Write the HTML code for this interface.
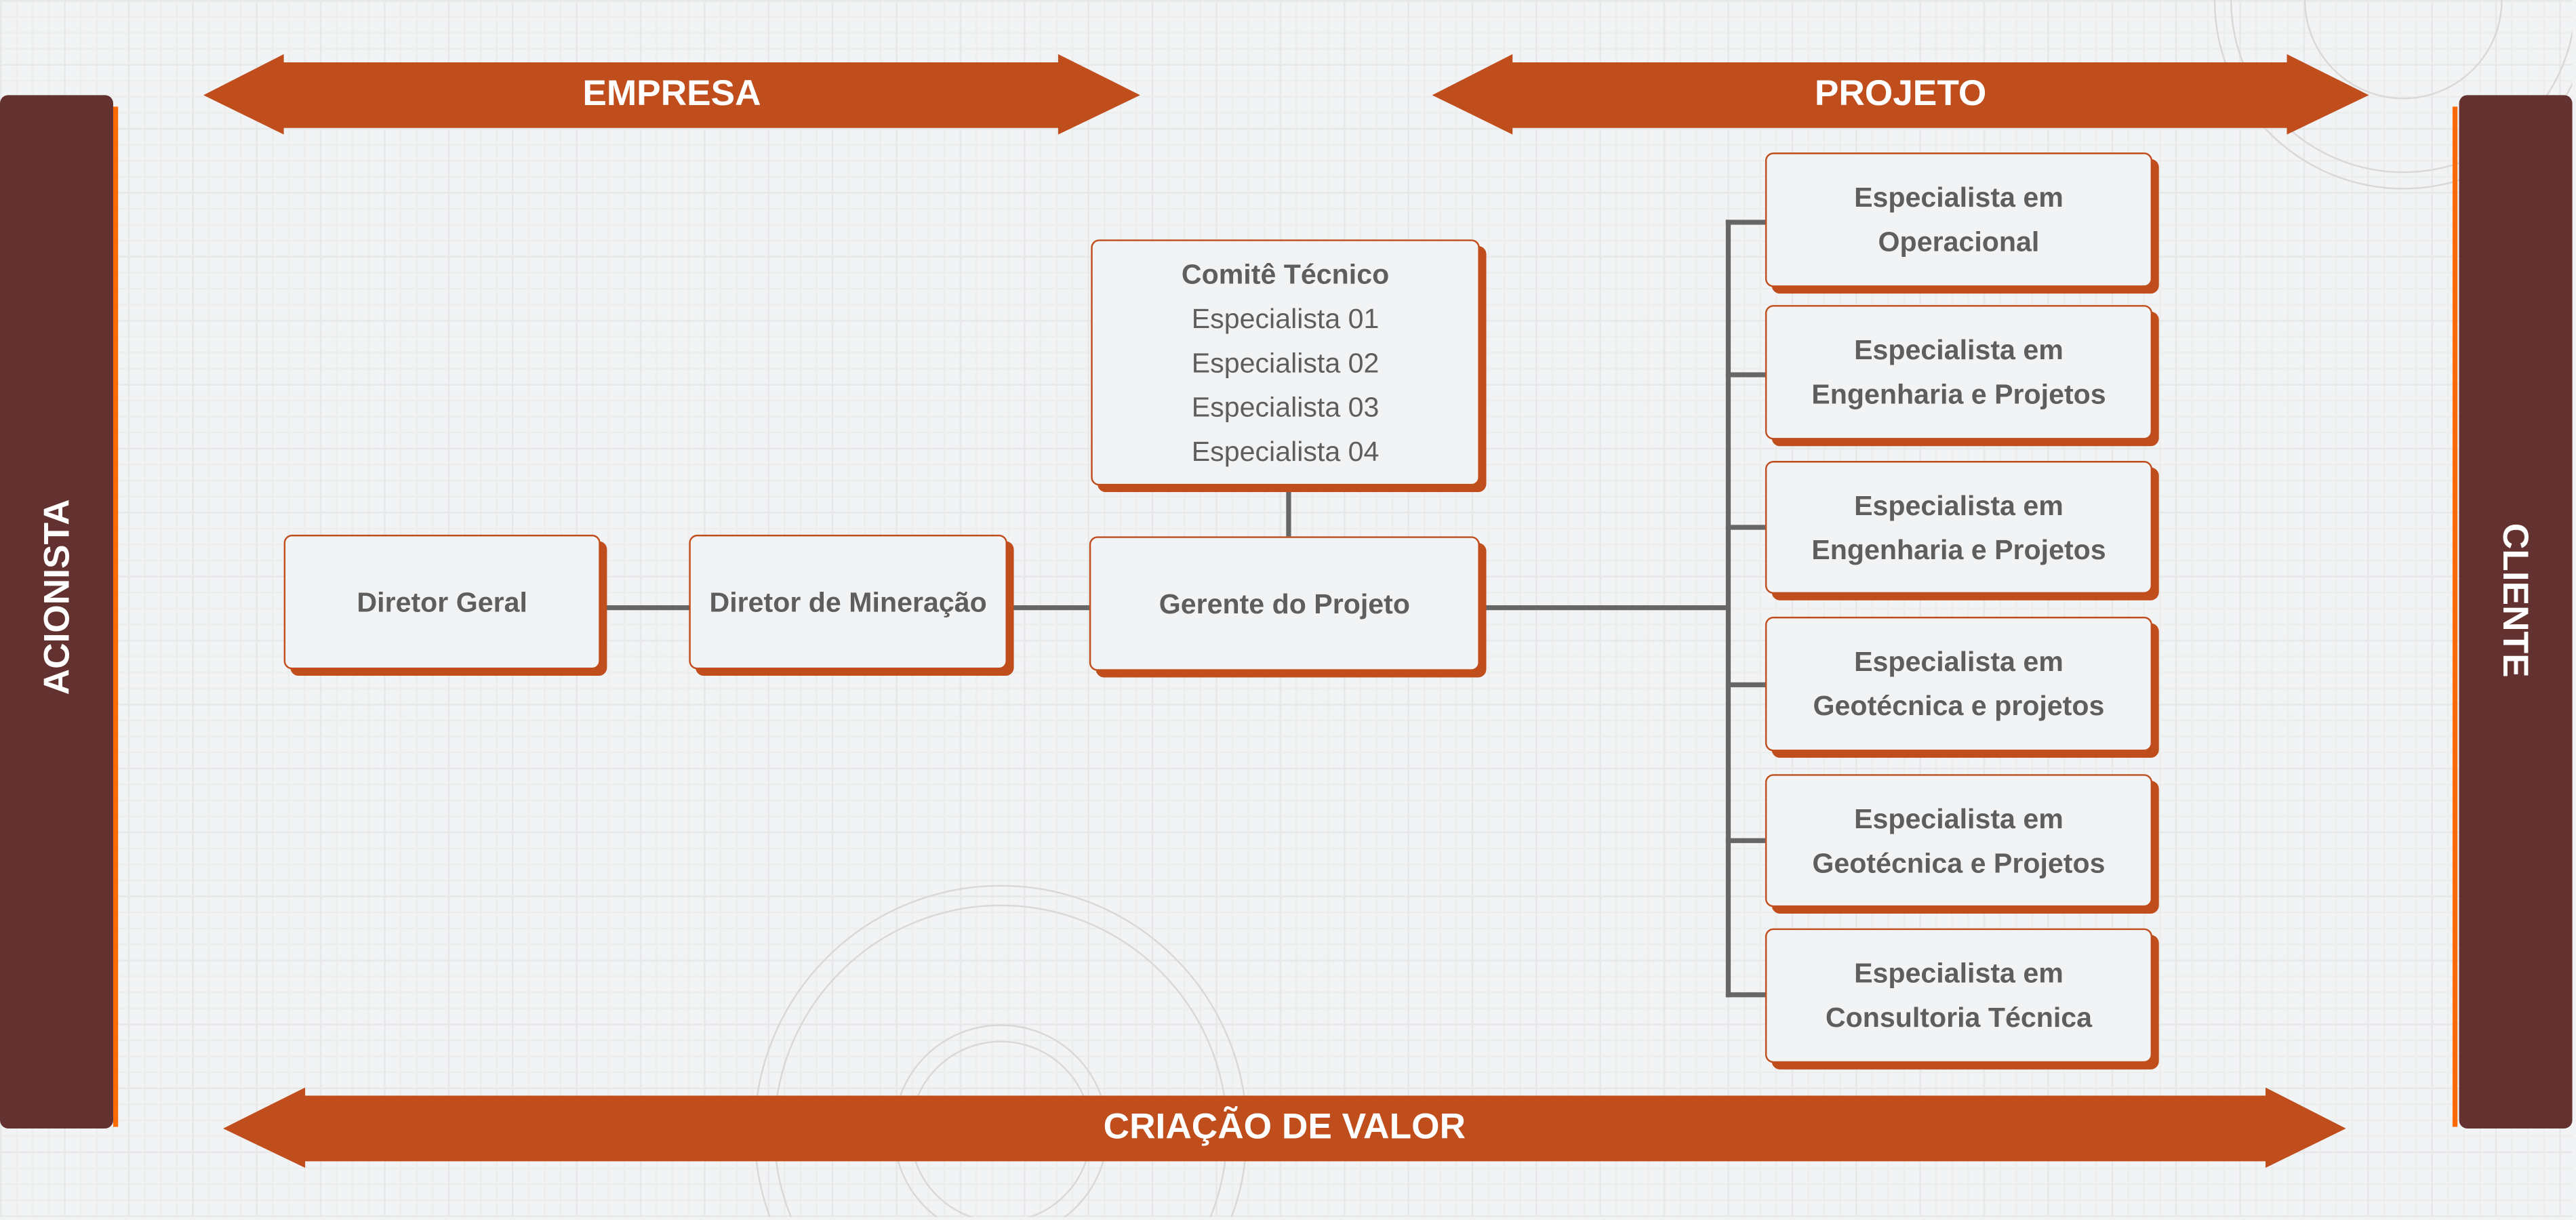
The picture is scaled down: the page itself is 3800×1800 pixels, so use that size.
<!DOCTYPE html>
<html><head><meta charset="utf-8"><style>
html,body{margin:0;padding:0;width:3800px;height:1800px;overflow:hidden;background:#f2f3f4;}
#c{position:relative;width:3800px;height:1800px;overflow:hidden;}
#w{position:absolute;left:0;top:0;width:1568px;height:742px;overflow:hidden;transform:scale(2.42);transform-origin:0 0;
background-color:#f2f3f4;
background-image:linear-gradient(#e7e8e9 1px,transparent 1px),linear-gradient(90deg,#e7e8e9 1px,transparent 1px),linear-gradient(#eceded 1px,transparent 1px),linear-gradient(90deg,#eceded 1px,transparent 1px);
background-size:39px 39px,39px 39px,9.75px 9.75px,9.75px 9.75px;
font-family:"Liberation Sans Narrow","Liberation Sans",sans-serif;}
.bar{position:absolute;top:58px;width:69px;height:630px;background:#633230;border-radius:5px;}
.st{position:absolute;width:3px;height:622px;top:65px;background:#ff6a00;}
.vt{position:absolute;color:#fff;font-weight:bold;font-size:22px;font-family:"Liberation Sans",sans-serif;white-space:nowrap;}
.box{position:absolute;background:#f2f3f4;border:1.3px solid #c04d1c;border-radius:5px;box-shadow:4px 4px 0 #c04d1c;box-sizing:border-box;
display:flex;align-items:center;justify-content:center;text-align:center;color:#5e5e5e;font-weight:bold;font-size:17px;line-height:27px;}
.ln{position:absolute;background:#666;}
.at{position:absolute;color:#fff;font-weight:bold;font-size:22px;font-family:"Liberation Sans",sans-serif;text-align:center;}
</style></head><body><div id="c"><div id="w">
<svg width="1568" height="742" style="position:absolute;left:0;top:0">
<g fill="none" stroke="#d8d8d8" stroke-width="1">
<circle cx="610" cy="690" r="150"/><circle cx="610" cy="690" r="138"/><circle cx="610" cy="690" r="65"/><circle cx="610" cy="690" r="55"/>
<circle cx="1465" cy="0" r="60"/><circle cx="1465" cy="0" r="115"/><circle cx="1465" cy="0" r="105"/>
</g>
<polygon fill="#c04d1c" points="124,58 173,33 173,38 645,38 645,33 695,58 645,82 645,78 173,78 173,82"/>
<polygon fill="#c04d1c" points="873,58 922,33 922,38 1394,38 1394,33 1444,58 1394,82 1394,78 922,78 922,82"/>
<polygon fill="#c04d1c" points="136,688 186,663 186,668 1381,668 1381,663 1430,688 1381,712 1381,708 186,708 186,712"/>
</svg>
<div class="at" style="left:124px;top:44px;width:571px">EMPRESA</div>
<div class="at" style="left:873px;top:44px;width:571px">PROJETO</div>
<div class="at" style="left:136px;top:674px;width:1294px">CRIAÇÃO DE VALOR</div>
<div class="bar" style="left:0"></div><div class="st" style="left:69px"></div>
<div class="bar" style="left:1499px"></div><div class="st" style="left:1495px"></div>
<div class="vt" style="left:35px;top:364px;transform:translate(-50%,-50%) rotate(-90deg)">ACIONISTA</div>
<div class="vt" style="left:1533px;top:366px;transform:translate(-50%,-50%) rotate(90deg)">CLIENTE</div>
<div class="ln" style="left:366px;top:369px;width:298px;height:3px"></div>
<div class="ln" style="left:902px;top:369px;width:152px;height:3px"></div>
<div class="ln" style="left:784px;top:296px;width:3px;height:31px"></div>
<div class="ln" style="left:1052px;top:134px;width:3px;height:474px"></div>
<div class="ln" style="left:1052px;top:134px;width:24px;height:3px"></div>
<div class="ln" style="left:1052px;top:227px;width:24px;height:3px"></div>
<div class="ln" style="left:1052px;top:320px;width:24px;height:3px"></div>
<div class="ln" style="left:1052px;top:416px;width:24px;height:3px"></div>
<div class="ln" style="left:1052px;top:511px;width:24px;height:3px"></div>
<div class="ln" style="left:1052px;top:605px;width:24px;height:3px"></div>
<div class="box" style="left:173px;top:326px;width:193px;height:82px">Diretor Geral</div>
<div class="box" style="left:420px;top:326px;width:194px;height:82px">Diretor de Mineração</div>
<div class="box" style="left:664px;top:327px;width:238px;height:82px">Gerente do Projeto</div>
<div class="box" style="left:665px;top:146px;width:237px;height:150px;font-weight:normal"><div><b>Comitê Técnico</b><br>Especialista 01<br>Especialista 02<br>Especialista 03<br>Especialista 04</div></div>
<div class="box" style="left:1076px;top:93px;width:236px;height:82px">Especialista em<br>Operacional</div>
<div class="box" style="left:1076px;top:186px;width:236px;height:82px">Especialista em<br>Engenharia e Projetos</div>
<div class="box" style="left:1076px;top:281px;width:236px;height:81px">Especialista em<br>Engenharia e Projetos</div>
<div class="box" style="left:1076px;top:376px;width:236px;height:82px">Especialista em<br>Geotécnica e projetos</div>
<div class="box" style="left:1076px;top:472px;width:236px;height:81px">Especialista em<br>Geotécnica e Projetos</div>
<div class="box" style="left:1076px;top:566px;width:236px;height:82px">Especialista em<br>Consultoria Técnica</div>
</div></div></body></html>
